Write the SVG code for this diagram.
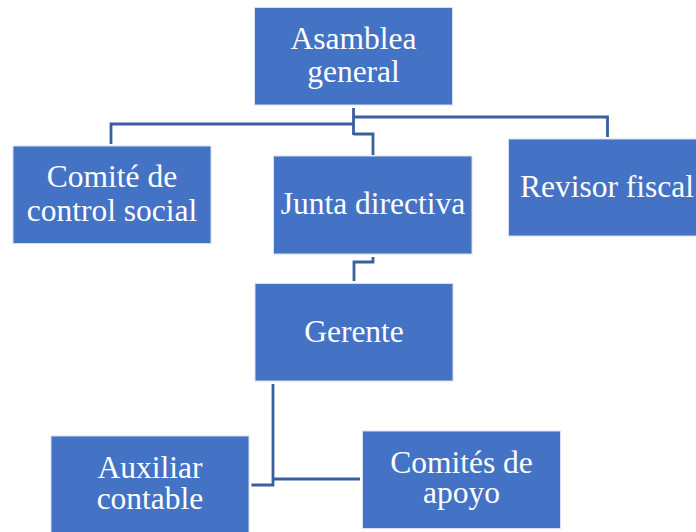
<svg xmlns="http://www.w3.org/2000/svg" width="696" height="532" viewBox="0 0 696 532">
<style>
.box{fill:#4472C4;stroke:#D6E0F2;stroke-width:1}
.lbl{fill:#FFFFFF;font-family:"Liberation Serif","Times New Roman",serif;font-size:31.5px;text-anchor:middle}
.conn{fill:none;stroke:#3A5F9E;stroke-width:2.8;stroke-linejoin:miter}
</style>
<rect width="696" height="532" fill="#FFFFFF"/>
<g id="connectors">
<path class="conn" d="M353.5,108 V135"/>
<path class="conn" d="M353.5,124 H111 V144"/>
<path class="conn" d="M353.5,117 H607.5 V137"/>
<path class="conn" d="M353.5,134 H373 V155"/>
<path class="conn" d="M373,257 V262 H354 V281"/>
<path class="conn" d="M273,384 V485 H251.5"/>
<path class="conn" d="M273,479 H360"/>
</g>
<g id="asamblea">
<rect class="box" x="254.5" y="7.5" width="198" height="97.5"/>
<text class="lbl" x="353.5" y="49">Asamblea</text>
<text class="lbl" x="353.5" y="82">general</text>
</g>
<g id="comite-control">
<rect class="box" x="13" y="146" width="198" height="97.5"/>
<text class="lbl" x="112" y="187">Comité de</text>
<text class="lbl" x="112" y="221">control social</text>
</g>
<g id="junta">
<rect class="box" x="273.5" y="156" width="198.5" height="98"/>
<text class="lbl" x="373" y="214">Junta directiva</text>
</g>
<g id="revisor">
<rect class="box" x="508.5" y="139" width="198" height="97"/>
<text class="lbl" x="607" y="197">Revisor fiscal</text>
</g>
<g id="gerente">
<rect class="box" x="255" y="283.5" width="198" height="97.5"/>
<text class="lbl" x="354" y="342">Gerente</text>
</g>
<g id="auxiliar">
<rect class="box" x="51" y="436" width="198" height="98"/>
<text class="lbl" x="150" y="478">Auxiliar</text>
<text class="lbl" x="150" y="509">contable</text>
</g>
<g id="comites-apoyo">
<rect class="box" x="362.5" y="431" width="198" height="97.5"/>
<text class="lbl" x="461.5" y="473">Comités de</text>
<text class="lbl" x="461.5" y="503">apoyo</text>
</g>
</svg>
